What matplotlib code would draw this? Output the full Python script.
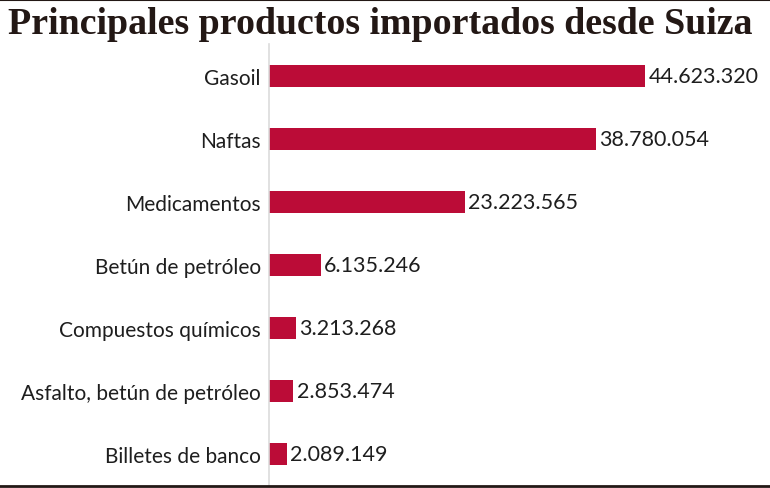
import matplotlib.pyplot as plt
from matplotlib.lines import Line2D

productos = ["Gasoil", "Naftas", "Medicamentos", "Betún de petróleo",
             "Compuestos químicos", "Asfalto, betún de petróleo", "Billetes de banco"]
valores = [44623320, 38780054, 23223565, 6135246, 3213268, 2853474, 2089149]
etiquetas = ["44.623.320", "38.780.054", "23.223.565", "6.135.246",
             "3.213.268", "2.853.474", "2.089.149"]

W, H = 770, 489
fig = plt.figure(figsize=(W / 100, H / 100), dpi=100)
fig.patch.set_facecolor("white")

# axes: left edge at the gray axis line, full height below the title
ax = fig.add_axes([269 / W, (H - 487) / H, (W - 269) / W, (487 - 45) / H])
pos = list(range(len(productos)))
ax.barh(pos, valores, height=0.35, color="#bb0c37", zorder=2)
ax.set_ylim(len(productos) - 0.5, -0.5)
ax.set_xlim(0, (W - 269) / 376 * valores[0])

for i, (v, t) in enumerate(zip(valores, etiquetas)):
    ax.annotate(t, (v, i), xytext=(2.5, 0), textcoords="offset points",
                va="center", ha="left", fontsize=15.5, family="Lato", color="#1e1e1e")

ax.set_yticks(pos)
ax.set_yticklabels(productos, fontsize=15, family="Lato", color="#1e1e1e")
ax.tick_params(axis="y", length=0, pad=6)
ax.set_xticks([])
for s in ["top", "right", "bottom"]:
    ax.spines[s].set_visible(False)
ax.spines["left"].set_color("#dcdcdc")
ax.spines["left"].set_linewidth(1.2)

fig.text(8 / W, 1 - 24 / H, "Principales productos importados desde Suiza",
         fontsize=27.3, fontweight="bold", family="Liberation Serif",
         color="#231815", va="center", ha="left")

# frame lines at top and bottom
fig.add_artist(Line2D([0, 1], [1 - 0.5 / H, 1 - 0.5 / H], color="#231815", lw=1.5,
                      transform=fig.transFigure))
fig.add_artist(Line2D([0, 1], [1 - 487 / H, 1 - 487 / H], color="#231815", lw=2,
                      transform=fig.transFigure))

fig.savefig("out.png", dpi=100)
